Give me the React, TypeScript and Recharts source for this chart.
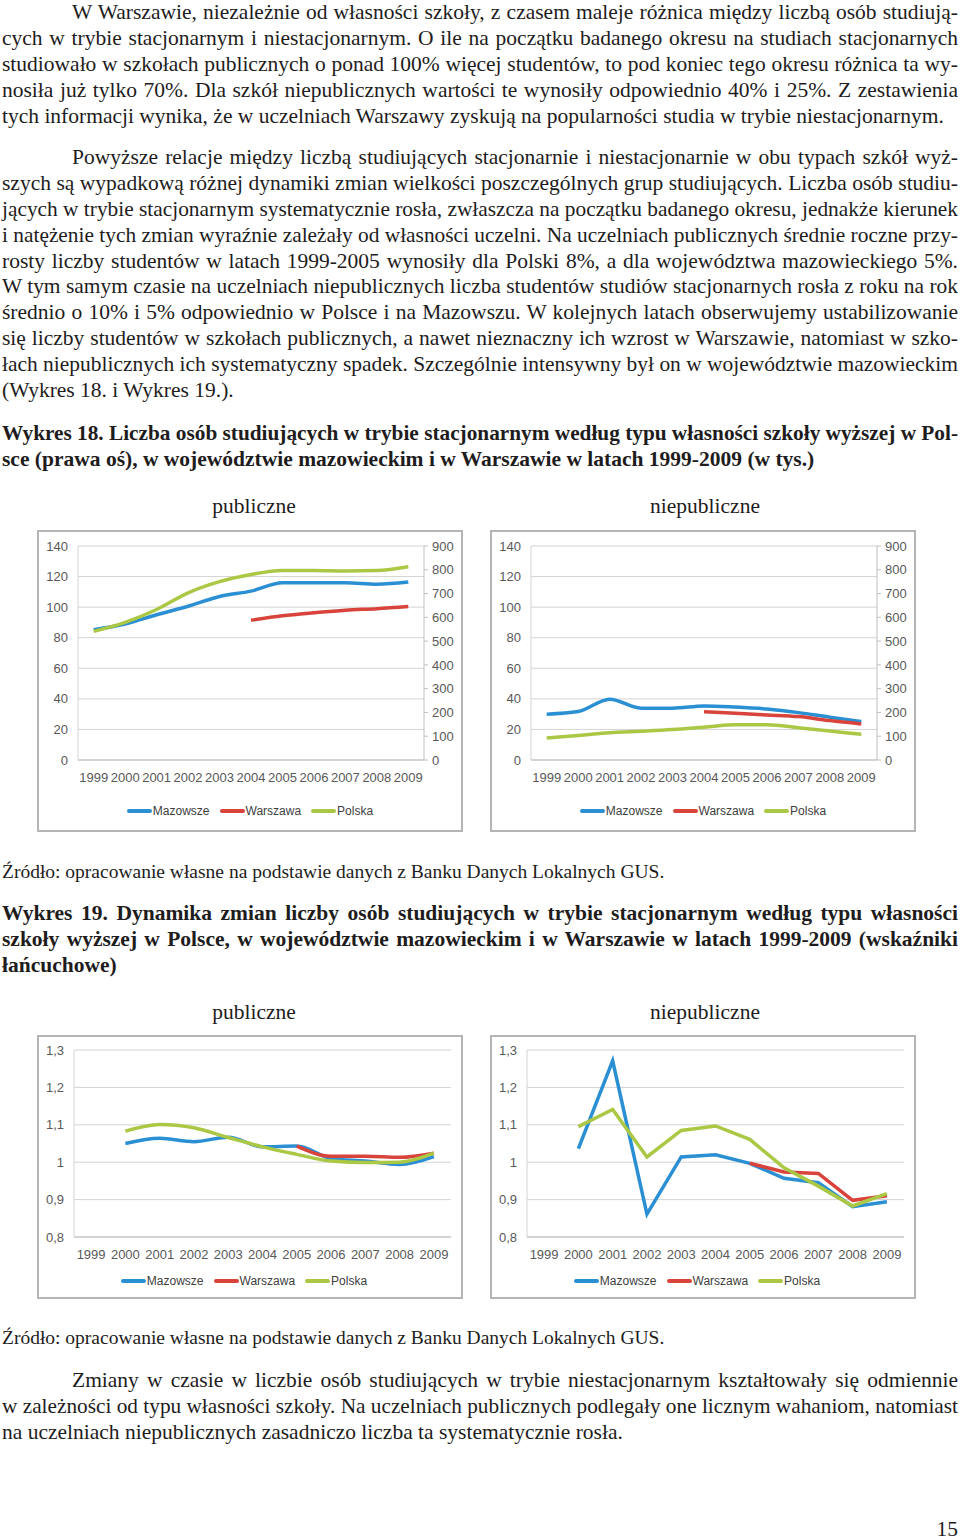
import { useLayoutEffect, useRef, useState } from 'react';
import { LineChart, Line, XAxis, YAxis, CartesianGrid, Legend } from 'recharts';

// --- data (w tys. / wskaźniki łańcuchowe) ---
const years = ['1999', '2000', '2001', '2002', '2003', '2004', '2005', '2006', '2007', '2008', '2009'];

// Wykres 18 – publiczne (Polska na prawej osi)
const pubMazowsze = [85.3, 89, 95, 100.6, 107, 110.5, 116, 116, 116, 115, 116.4];
const pubWarszawa = [null, null, null, null, null, 91.4, 94.3, 96.3, 98, 99, 100.4];
const pubPolska = [541, 579, 633, 703, 750, 780, 797, 797, 795, 797, 813];

// Wykres 18 – niepubliczne
const niepubMazowsze = [30, 31.7, 39.8, 33.9, 33.9, 35.4, 34.6, 33.3, 31, 28, 25.2];
const niepubWarszawa = [null, null, null, null, null, 31.5, 30.6, 29.5, 28.4, 25.8, 23.6];
const niepubPolska = [93, 103, 115, 121, 128, 138, 148, 148, 136, 122, 108];

// Wykres 19 – publiczne
const dynPubMazowsze = [null, 1.05, 1.064, 1.055, 1.067, 1.041, 1.043, 1.01, 1.003, 0.994, 1.015];
const dynPubWarszawa = [null, null, null, null, null, null, 1.043, 1.016, 1.016, 1.013, 1.024];
const dynPubPolska = [null, 1.083, 1.101, 1.092, 1.066, 1.041, 1.021, 1.003, 0.999, 1.0, 1.024];

// Wykres 19 – niepubliczne
const dynNiepubMazowsze = [null, 1.036, 1.271, 0.861, 1.014, 1.02, 0.997, 0.957, 0.945, 0.881, 0.894];
const dynNiepubWarszawa = [null, null, null, null, null, null, 0.997, 0.974, 0.97, 0.898, 0.91];
const dynNiepubPolska = [null, 1.095, 1.141, 1.014, 1.085, 1.097, 1.061, 0.985, 0.936, 0.883, 0.916];

const leftTicks18 = [0, 20, 40, 60, 80, 100, 120, 140];
const rightTicks18 = [0, 100, 200, 300, 400, 500, 600, 700, 800, 900];
const ticks19 = [0.8, 0.9, 1.0, 1.1, 1.2, 1.3];

const seriesNames = ['Mazowsze', 'Warszawa', 'Polska'];
const COLORS = { Mazowsze: '#2b8fd3', Warszawa: '#d8433c', Polska: '#abc845' };

const build = (m: (number | null)[], w: (number | null)[], p: (number | null)[]) =>
  years.map((y, i) => ({ year: y, Mazowsze: m[i], Warszawa: w[i], Polska: p[i] }));

const TEXT_W = 956;
const LINE_H = 25.9;
const FS = 21.5;
const SERIF = '"Liberation Serif", "Times New Roman", serif';
const SANS = '"Liberation Sans", Arial, sans-serif';
const AXIS_TXT = { fill: '#595959', fontSize: 13, fontFamily: SANS };

function TextLine({ text, indent = 0, justify = true, bold = false, size = FS }: { text: string; indent?: number; justify?: boolean; bold?: boolean; size?: number }) {
  const ref = useRef<HTMLSpanElement>(null);
  const [scale, setScale] = useState(1);
  useLayoutEffect(() => {
    if (!ref.current) return;
    const w = ref.current.getBoundingClientRect().width;
    const avail = TEXT_W - indent;
    if (w > avail + 0.5) setScale(avail / w);
  }, [text, indent]);
  const fits = scale === 1;
  const align = justify && fits ? 'justify' : 'left';
  return (
    <div style={{ height: LINE_H, lineHeight: LINE_H + 'px', paddingLeft: indent, whiteSpace: 'nowrap', textAlign: align as any, textAlignLast: align as any, fontWeight: bold ? 700 : 400, fontSize: size }}>
      <span ref={ref} style={{ display: fits ? 'inline' : 'inline-block', transform: fits ? undefined : `scaleX(${scale})`, transformOrigin: 'left center' }}>{text}</span>
    </div>
  );
}

function Para({ top, lines, indent = 70, bold = false, size = FS }: { top: number; lines: string[]; indent?: number; bold?: boolean; size?: number }) {
  return (
    <div style={{ position: 'absolute', left: 2, top, width: TEXT_W }}>
      {lines.map((l, i) => (
        <TextLine key={i} text={l} indent={i === 0 ? indent : 0} bold={bold} size={size} justify={i < lines.length - 1} />
      ))}
    </div>
  );
}

function ChartLegend() {
  return (
    <div style={{ display: 'flex', justifyContent: 'center', alignItems: 'center', gap: 10, height: 22, fontFamily: SANS, fontSize: 12, color: '#404040' }}>
      {seriesNames.map((n) => (
        <div key={n} style={{ display: 'flex', alignItems: 'center' }}>
          <div style={{ width: 25, height: 4, background: (COLORS as any)[n], borderRadius: 2 }} />
          <span style={{ marginLeft: 1 }}>{n}</span>
        </div>
      ))}
    </div>
  );
}

function Box({ left, top, width, height, children }: any) {
  return (
    <div style={{ position: 'absolute', left, top, width, height }}>
      {children}
      <div style={{ position: 'absolute', left: 0, top: 0, width, height, boxSizing: 'border-box', border: '2px solid #b5b5b5', pointerEvents: 'none' }} />
    </div>
  );
}

function Chart18({ data }: { data: any[] }) {
  return (
    <LineChart width={426} height={302} data={data} margin={{ top: 16, right: 0, left: 0, bottom: 10 }}>
      <CartesianGrid yAxisId="left" vertical={false} stroke="#d4d4d4" />
      <XAxis dataKey="year" tick={AXIS_TXT} tickLine={false} tickMargin={7} height={40} axisLine={{ stroke: '#bfbfbf' }} interval={0} padding={{ left: 15.7, right: 15.7 }} />
      <YAxis yAxisId="left" domain={[0, 140]} ticks={leftTicks18} tick={AXIS_TXT} tickLine={false} tickMargin={4} width={41} axisLine={{ stroke: '#d4d4d4' }} />
      <YAxis yAxisId="right" orientation="right" domain={[0, 900]} ticks={rightTicks18} tick={AXIS_TXT} tickSize={4} tickMargin={4} width={39} axisLine={{ stroke: '#bfbfbf' }} tickLine={{ stroke: '#bfbfbf' }} />
      <Legend verticalAlign="bottom" content={() => <ChartLegend />} />
      <Line yAxisId="left" type="monotone" dataKey="Mazowsze" stroke={COLORS.Mazowsze} strokeWidth={3.5} dot={false} isAnimationActive={false} />
      <Line yAxisId="left" type="monotone" dataKey="Warszawa" stroke={COLORS.Warszawa} strokeWidth={3.5} dot={false} isAnimationActive={false} />
      <Line yAxisId="right" type="monotone" dataKey="Polska" stroke={COLORS.Polska} strokeWidth={3.5} dot={false} isAnimationActive={false} />
    </LineChart>
  );
}

function Chart19({ data, curve }: { data: any[]; curve: 'monotone' | 'linear' }) {
  const fmt = (v: number) => (v === 1 ? '1' : v.toFixed(1).replace('.', ','));
  return (
    <LineChart width={426} height={264} data={data} margin={{ top: 15, right: 12, left: 0, bottom: 7 }}>
      <CartesianGrid vertical={false} stroke="#d4d4d4" />
      <XAxis dataKey="year" tick={AXIS_TXT} tickLine={false} tickMargin={7} height={33} axisLine={{ stroke: '#bfbfbf' }} interval={0} padding={{ left: 17.1, right: 17.1 }} />
      <YAxis domain={[0.8, 1.3]} ticks={ticks19} tickFormatter={fmt} tick={AXIS_TXT} tickLine={false} tickMargin={4} width={37} axisLine={{ stroke: '#d4d4d4' }} />
      <Legend verticalAlign="bottom" content={() => <ChartLegend />} />
      <Line type={curve} dataKey="Mazowsze" stroke={COLORS.Mazowsze} strokeWidth={3.5} dot={false} isAnimationActive={false} />
      <Line type={curve} dataKey="Warszawa" stroke={COLORS.Warszawa} strokeWidth={3.5} dot={false} isAnimationActive={false} />
      <Line type={curve} dataKey="Polska" stroke={COLORS.Polska} strokeWidth={3.5} dot={false} isAnimationActive={false} />
    </LineChart>
  );
}

const p1 = [
  'W Warszawie, niezależnie od własności szkoły, z czasem maleje różnica między liczbą osób studiują-',
  'cych w trybie stacjonarnym i niestacjonarnym. O ile na początku badanego okresu na studiach stacjonarnych',
  'studiowało w szkołach publicznych o ponad 100% więcej studentów, to pod koniec tego okresu różnica ta wy-',
  'nosiła już tylko 70%. Dla szkół niepublicznych wartości te wynosiły odpowiednio 40% i 25%. Z zestawienia',
  'tych informacji wynika, że w uczelniach Warszawy zyskują na popularności studia w trybie niestacjonarnym.',
];
const p2 = [
  'Powyższe relacje między liczbą studiujących stacjonarnie i niestacjonarnie w obu typach szkół wyż-',
  'szych są wypadkową różnej dynamiki zmian wielkości poszczególnych grup studiujących. Liczba osób studiu-',
  'jących w trybie stacjonarnym systematycznie rosła, zwłaszcza na początku badanego okresu, jednakże kierunek',
  'i natężenie tych zmian wyraźnie zależały od własności uczelni. Na uczelniach publicznych średnie roczne przy-',
  'rosty liczby studentów w latach 1999-2005 wynosiły dla Polski 8%, a dla województwa mazowieckiego 5%.',
  'W tym samym czasie na uczelniach niepublicznych liczba studentów studiów stacjonarnych rosła z roku na rok',
  'średnio o 10% i 5% odpowiednio w Polsce i na Mazowszu. W kolejnych latach obserwujemy ustabilizowanie',
  'się liczby studentów w szkołach publicznych, a nawet nieznaczny ich wzrost w Warszawie, natomiast w szko-',
  'łach niepublicznych ich systematyczny spadek. Szczególnie intensywny był on w województwie mazowieckim',
  '(Wykres 18. i Wykres 19.).',
];
const cap18 = [
  'Wykres 18. Liczba osób studiujących w trybie stacjonarnym według typu własności szkoły wyższej w Pol-',
  'sce (prawa oś), w województwie mazowieckim i w Warszawie w latach 1999-2009 (w tys.)',
];
const cap19 = [
  'Wykres 19. Dynamika zmian liczby osób studiujących w trybie stacjonarnym według typu własności',
  'szkoły wyższej w Polsce, w województwie mazowieckim i w Warszawie w latach 1999-2009 (wskaźniki',
  'łańcuchowe)',
];
const p3 = [
  'Zmiany w czasie w liczbie osób studiujących w trybie niestacjonarnym kształtowały się odmiennie',
  'w zależności od typu własności szkoły. Na uczelniach publicznych podlegały one licznym wahaniom, natomiast',
  'na uczelniach niepublicznych zasadniczo liczba ta systematycznie rosła.',
];
const source = 'Źródło: opracowanie własne na podstawie danych z Banku Danych Lokalnych GUS.';

function SubTitle({ x, top, text }: { x: number; top: number; text: string }) {
  return (
    <div style={{ position: 'absolute', left: x - 100, top, width: 200, textAlign: 'center', fontSize: FS, lineHeight: LINE_H + 'px' }}>{text}</div>
  );
}

export default function App() {
  return (
    <div style={{ position: 'absolute', left: 0, top: 0, width: 960, height: 1540, background: '#fff', color: '#1e1c1c', fontFamily: SERIF, overflow: 'hidden' }}>
      <Para top={0} lines={p1} />
      <Para top={145} lines={p2} />
      <Para top={421} lines={cap18} indent={0} bold />
      <SubTitle x={254} top={494} text="publiczne" />
      <SubTitle x={705} top={494} text="niepubliczne" />
      <Box left={37} top={530} width={426} height={302}>
        <Chart18 data={build(pubMazowsze, pubWarszawa, pubPolska)} />
      </Box>
      <Box left={490} top={530} width={426} height={302}>
        <Chart18 data={build(niepubMazowsze, niepubWarszawa, niepubPolska)} />
      </Box>
      <Para top={859} lines={[source]} indent={0} size={19.5} />
      <Para top={901} lines={cap19} indent={0} bold />
      <SubTitle x={254} top={1000} text="publiczne" />
      <SubTitle x={705} top={1000} text="niepubliczne" />
      <Box left={37} top={1035} width={426} height={264}>
        <Chart19 data={build(dynPubMazowsze, dynPubWarszawa, dynPubPolska)} curve="monotone" />
      </Box>
      <Box left={490} top={1035} width={426} height={264}>
        <Chart19 data={build(dynNiepubMazowsze, dynNiepubWarszawa, dynNiepubPolska)} curve="linear" />
      </Box>
      <Para top={1325} lines={[source]} indent={0} size={19.5} />
      <Para top={1368} lines={p3} />
      <div style={{ position: 'absolute', right: 2, top: 1518, fontSize: FS, lineHeight: '22px' }}>15</div>
    </div>
  );
}
